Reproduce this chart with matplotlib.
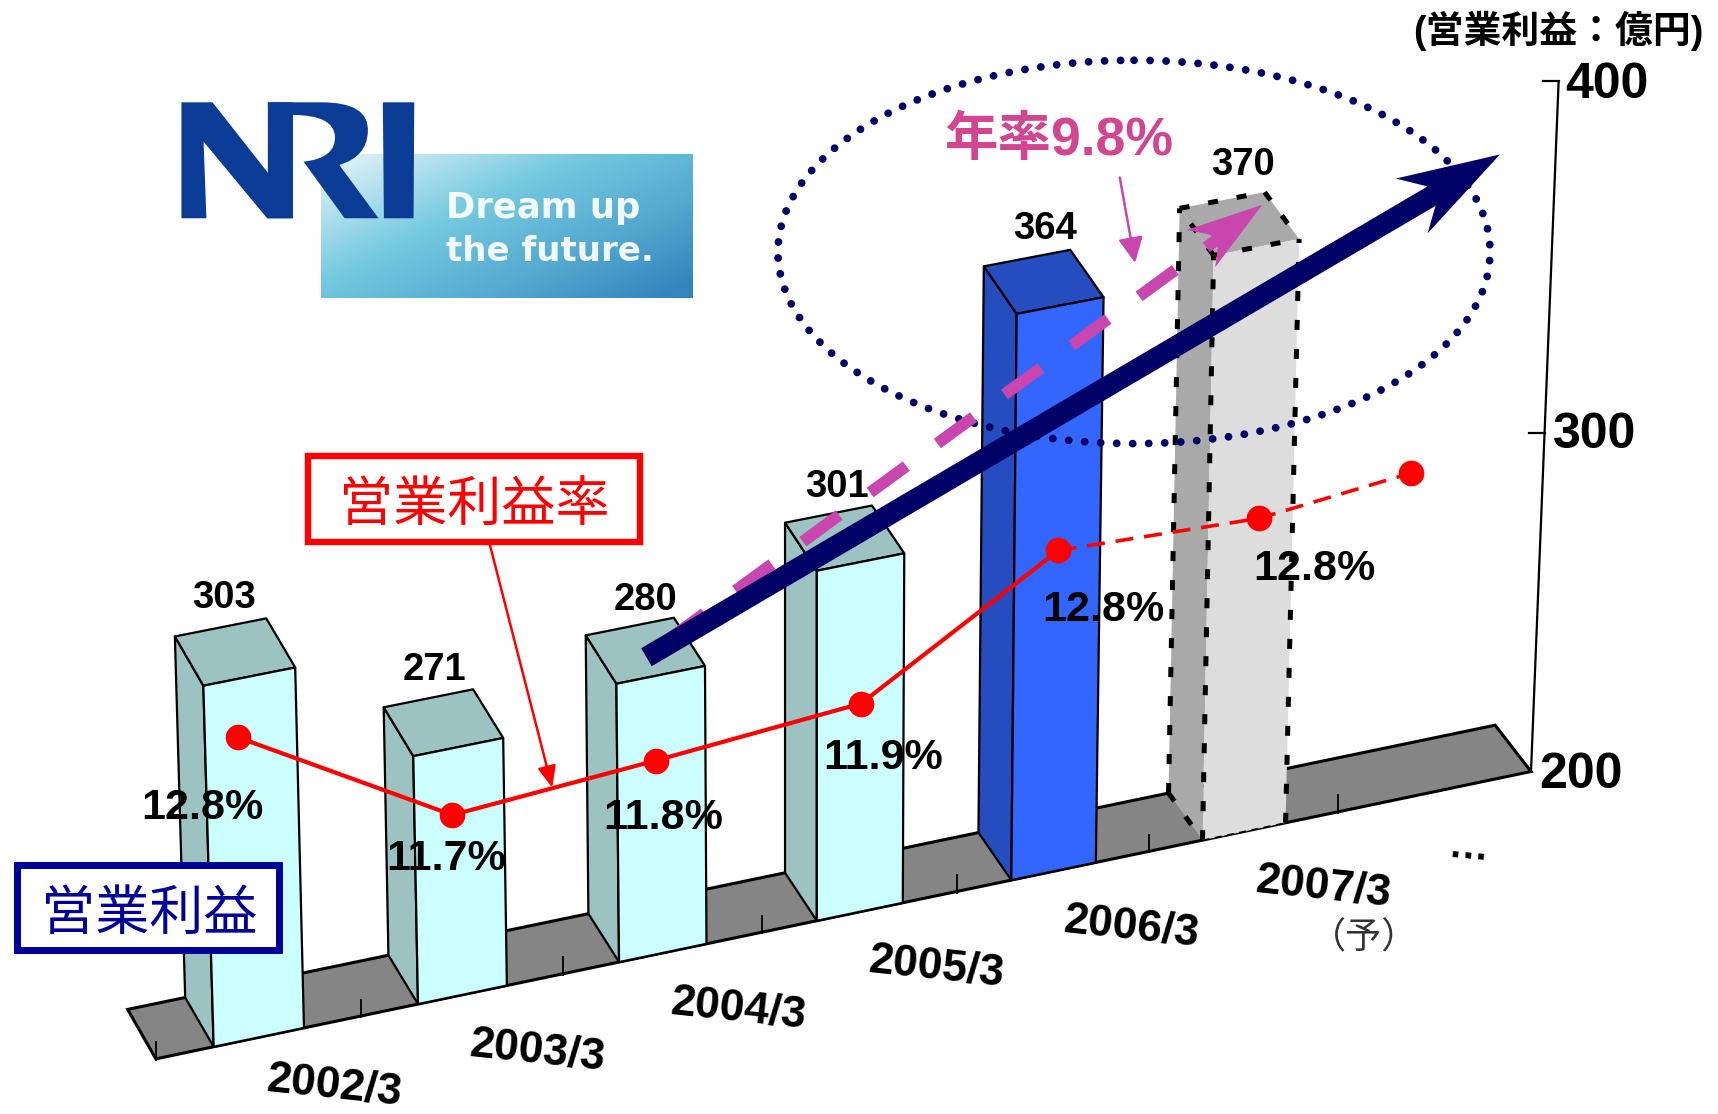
import numpy as np
import matplotlib
matplotlib.use("Agg")
import matplotlib.pyplot as plt
from matplotlib.colors import LinearSegmentedColormap
from matplotlib.patches import Ellipse, Polygon, Rectangle, PathPatch
from matplotlib.path import Path

plt.rcParams['font.family'] = ['Liberation Sans', 'Noto Sans CJK JP', 'DejaVu Sans']

# Operating profit (100 million yen) and operating margin (%)
years = ['2002/3', '2003/3', '2004/3', '2005/3', '2006/3', '2007/3']
profit = [303, 271, 280, 301, 364, 370]
margin = [12.8, 11.7, 11.8, 11.9, 12.8, 12.8, 12.9]
margin_labels = ['12.8%', '11.7%', '11.8%', '11.9%', '12.8%', '12.8%']
axis_values = [200, 300, 400]

FRONT, SIDE = 0, 1
bar_colors = [('#CCFFFF', '#9CC2C2')] * 4 + [('#3366FF', '#264DBF'), ('#DDDDDD', '#A9A9A9')]

W, H = 1568, 1017
fig = plt.figure(figsize=(17.18, 11.14), dpi=100)
ax = fig.add_axes([0, 0, 1, 1])
ax.axis('off')


def front_x(s):
    return 195 + 188 * s - 1.5 * s ** 2


def front_y(x):
    return 966.5 - 0.209 * (x - 143)


def project(s, d, v):
    """Map slot position, depth and value onto the slanted 3D view."""
    x0 = front_x(s)
    y0 = front_y(x0)
    h = (v - 200) * (3.2 - 0.012 * s)
    lean = 0.0095 * (s - 3)
    return x0 + d * (-26 - 1.0 * s) + lean * h, y0 - (45 - 0.4 * s) * d - h


def axis_point(v):
    h = (v - 200) * (3.09 + 0.0006 * (v - 300))
    x0 = front_x(S_END)
    return x0 + 0.04 * h, front_y(x0) - h


S_START, S_END = -0.28, 6.76
BAR_W = 0.44

# Floor and its slot ticks
floor = [project(S_START, 0, 200), project(S_END, 0, 200),
         project(S_END, 1, 200), project(S_START, 1, 200)]
ax.add_patch(Polygon(floor, closed=True, fc='#858585', ec='black', lw=2.2, zorder=1))
for k in range(7):
    x, y = project(S_START + k, 0, 200)
    ax.plot([x, x], [y + 1, y - 15], color='black', lw=1.3, zorder=1.5)

# Vertical axis
ax.plot(*zip(axis_point(200), axis_point(400)), color='black', lw=1.6, zorder=1)
for v in axis_values[1:]:
    x, y = axis_point(v)
    ax.plot([x - 14, x], [y, y], color='black', lw=1.6, zorder=1)
for v, (dx, dy) in zip(axis_values, [(46, 3), (46, 2), (44, 3)]):
    x, y = axis_point(v)
    ax.text(x + dx, y + dy, str(v), fontsize=36, fontweight='bold',
            ha='center', va='center', zorder=8)


def dashed_edge(points):
    xs, ys = zip(*points)
    ax.plot(xs, ys, color='black', lw=3.6, ls=(0, (2.0, 3.8)), zorder=3.5,
            solid_capstyle='butt', dash_capstyle='butt')


# Bars
for i, value in enumerate(profit):
    fb_l = project(i, 0, 200)
    fb_r = project(i + BAR_W, 0, 200)
    ft_l = project(i, 0, value)
    ft_r = project(i + BAR_W, 0, value)
    bt_l = project(i, 1, value)
    bt_r = project(i + BAR_W, 1, value)
    bb_l = project(i, 1, 200)
    forecast = i == len(profit) - 1
    edge_kw = dict(ec='none', lw=0) if forecast else dict(ec='black', lw=1.6)
    for pts, color in (([fb_l, ft_l, bt_l, bb_l], bar_colors[i][SIDE]),
                       ([ft_l, ft_r, bt_r, bt_l], bar_colors[i][SIDE]),
                       ([fb_l, fb_r, ft_r, ft_l], bar_colors[i][FRONT])):
        ax.add_patch(Polygon(pts, closed=True, fc=color, joinstyle='round', zorder=2 + i * 0.1, **edge_kw))
    if forecast:
        for edge in ([fb_l, ft_l], [fb_r, ft_r], [ft_l, ft_r], [ft_l, bt_l], [bt_l, bt_r],
                     [bt_r, ft_r], [bb_l, bt_l], [bb_l, fb_l]):
            dashed_edge(edge)
        ax.plot(*zip(fb_l, fb_r), color='black', lw=1.0, ls=(0, (5, 4)), zorder=3.5)
    ax.text(bt_l[0] + [45, 46, 55, 47, 56, 58][i], bt_l[1] - [35, 34, 32, 33, 34, 40][i], str(value),
            fontsize=27.5, fontweight='bold', ha='center', va='center', zorder=8)

# Year labels below the floor
for i, label in enumerate(years):
    x, y = project(i + 0.215, 0, 200)
    ax.text(x + [70, 69, 70, 71, 72, 73.5][i], y + [45, 52, 52, 51, 51, 51][i], label, fontsize=32,
            fontweight='bold', rotation=-6, ha='center', va='center', zorder=8)
ax.text(1245, 857, '（予）', fontsize=26, color='#333333', ha='center', va='center', zorder=8)
ax.text(1340, 774, '…', fontsize=29, fontweight='bold', rotation=-5, ha='center', va='center', zorder=8)

# Operating margin line: the last two segments are forecasts
margin_slots = [0.117, 1.17, 2.185, 3.226, 4.245, 5.3, 6.11]
margin_nudges = [6.5, -1.5, -1.5, -3.5, -7.5, 1.5, 0]
margin_x = [front_x(s) for s in margin_slots]
margin_y = [front_y(x) - 109 * (m - 10.19) + n
            for x, m, n in zip(margin_x, margin, margin_nudges)]
ax.plot(margin_x[:5], margin_y[:5], color='#FF0000', lw=3, zorder=6, solid_capstyle='round')
ax.plot(margin_x[4:], margin_y[4:], color='#FF0000', lw=2.6, ls=(0, (5, 3)), zorder=6)
ax.plot(margin_x, margin_y, 'o', color='#FF0000', ms=18.5, mec='none', zorder=6.2)
for label, (x, y) in zip(margin_labels, [(185, 738), (407, 784), (605, 747),
                                         (806, 692), (1007, 557), (1200, 519)]):
    ax.text(x, y, label, fontsize=31, fontweight='bold', ha='center', va='center', zorder=8)

# Dotted ellipse around the forecast growth
ax.add_patch(Ellipse((1035, 230), 650, 350, fill=False, ec='#000066', lw=5.6,
                     ls=(0, (0.01, 2.05)), capstyle='round', zorder=5))

# Dashed growth-rate arrow
ax.plot([610, 1113], [584, 217], color='#C846AE', lw=8.5, ls=(0, (3.8, 3.25)), zorder=6.5,
        dash_capstyle='butt')
ax.add_patch(Polygon([(1152, 187), (1083, 210), (1104, 214), (1112, 222), (1109, 244)],
                     closed=True, fc='#C846AE', ec='none', zorder=6.6))

# Solid navy trend arrow
ax.plot([590, 1322], [600, 170], color='#000066', lw=15, solid_capstyle='butt', zorder=7)
ax.add_patch(Polygon([(1369, 141), (1274, 163), (1302, 170), (1311, 185), (1303, 213)],
                     closed=True, fc='#000066', ec='none', zorder=7))

# Thin callout arrows
ax.annotate('', xy=(1036, 240), xytext=(1022, 162), zorder=7,
            arrowprops=dict(arrowstyle='-|>,head_length=0.78,head_width=0.38', color='#C846AE',
                            lw=1.8, mutation_scale=20, shrinkA=0, shrinkB=0))
ax.annotate('', xy=(504, 719), xytext=(447, 497), zorder=7,
            arrowprops=dict(arrowstyle='-|>,head_length=0.65,head_width=0.28', color='#FF0000',
                            lw=1.8, mutation_scale=20, shrinkA=0, shrinkB=0))

# Text annotations and boxed legends
ax.text(966, 129, '年率9.8%', fontsize=38.5, fontweight='bold', color='#D2458F',
        ha='center', va='center', zorder=8)
ax.text(1422, 28, '(営業利益：億円)', fontsize=27.3, fontweight='bold', ha='center', va='center', zorder=8)
ax.add_patch(Rectangle((281.5, 416.5), 303, 78, fc='white', ec='#FF0000', lw=4.6, zorder=8))
ax.text(433, 463, '営業利益率', fontsize=39, color='#FF0000', ha='center', va='center', zorder=9)
ax.add_patch(Rectangle((15.5, 789.5), 239, 78, fc='white', ec='#000099', lw=5, zorder=8))
ax.text(136, 836, '営業利益', fontsize=39, color='#000099', ha='center', va='center', zorder=9)


def logo_xy(points):
    return [((150 + x / 2.8) / 1.0957, (80 + y / 3) / 1.0957) for x, y in points]


# Logo: gradient panel with the brand letters on top
x0, y0 = logo_xy([(478, 225)])[0]
x1, y1 = logo_xy([(1518, 655)])[0]
u, v = np.meshgrid(np.linspace(0, 1, 200), np.linspace(0, 1, 100))
t = np.clip(0.62 * u + 0.48 * v - 0.05, 0, 1)
cmap = LinearSegmentedColormap.from_list('logo', [(0, '#DDF1F6'), (0.38, '#74C9DF'),
                                                  (0.72, '#52A8CF'), (1, '#3386BD')])
ax.imshow(t, extent=(x0, x1, y1, y0), cmap=cmap, vmin=0, vmax=1, aspect='auto', zorder=1,
          interpolation='bilinear')

letter_n = [(88, 67), (175, 67), (335, 285), (330, 67), (400, 67), (400, 415), (328, 415),
            (150, 185), (158, 415), (88, 415)]
letter_i = [(652, 67), (740, 67), (738, 415), (655, 415)]
for letter in (letter_n, letter_i):
    ax.add_patch(Polygon(logo_xy(letter), closed=True, fc='#0A3C96', ec='none', zorder=1.2))
r_points = [(330, 67), (480, 67), (615, 67), (610, 155), (608, 230), (530, 255), (640, 415), (545, 415),
            (430, 245), (520, 235), (518, 170), (515, 105), (400, 105), (400, 415), (330, 415), (330, 67)]
r_codes = [Path.MOVETO, Path.LINETO, Path.CURVE3, Path.CURVE3, Path.CURVE3, Path.CURVE3, Path.LINETO,
           Path.LINETO, Path.LINETO, Path.CURVE3, Path.CURVE3, Path.CURVE3, Path.CURVE3,
           Path.LINETO, Path.LINETO, Path.CLOSEPOLY]
ax.add_patch(PathPatch(Path(logo_xy(r_points), r_codes), fc='#0A3C96', ec='none', zorder=1.2))
ax.text(*logo_xy([(830, 385)])[0], 'Dream up', fontsize=25.5, family='DejaVu Sans', fontweight='bold',
        color='white', ha='left', va='center', zorder=1.3, alpha=0.92)
ax.text(*logo_xy([(830, 515)])[0], 'the future.', fontsize=24.5, family='DejaVu Sans', fontweight='bold',
        color='white', ha='left', va='center', zorder=1.3, alpha=0.92)

ax.set_xlim(0, W)
ax.set_ylim(H, 0)
fig.savefig('out.png', dpi=100)
